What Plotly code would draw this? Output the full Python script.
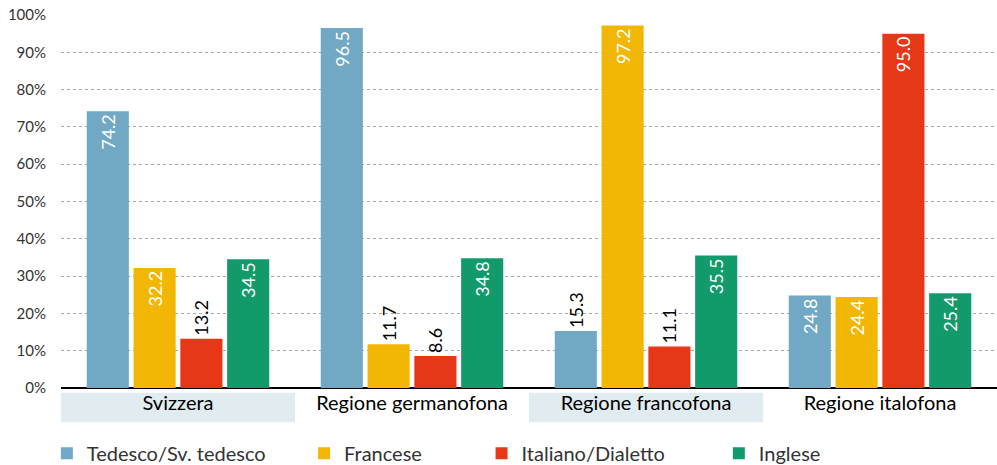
import plotly.graph_objects as go

# data
regions = ["Svizzera", "Regione germanofona", "Regione francofona", "Regione italofona"]
languages = ["Tedesco/Sv. tedesco", "Francese", "Italiano/Dialetto", "Inglese"]
tedesco = [74.2, 96.5, 15.3, 24.8]
francese = [32.2, 11.7, 97.2, 24.4]
italiano = [13.2, 8.6, 11.1, 95.0]
inglese = [34.5, 34.8, 35.5, 25.4]
y_ticks = [0, 10, 20, 30, 40, 50, 60, 70, 80, 90, 100]

series = [tedesco, francese, italiano, inglese]
colors = ["#71a8c3", "#f2b705", "#e63819", "#139a6b"]
legend_ids = ["legend", "legend2", "legend3", "legend4"]
legend_x = [0.047, 0.305, 0.483, 0.721]
FONT = "Lato"

fig = go.Figure()
for name, vals, col, lg in zip(languages, series, colors, legend_ids):
    pos = ["inside" if v > 20 else "outside" for v in vals]
    fig.add_trace(go.Bar(
        name=name,
        x=regions,
        y=vals,
        legend=lg,
        marker=dict(color=col, line=dict(width=0)),
        text=["%.1f" % v for v in vals],
        textposition=pos,
        textangle=-90,
        insidetextanchor="end",
        insidetextfont=dict(family=FONT, size=18, color="white"),
        outsidetextfont=dict(family=FONT, size=18, color="black"),
        cliponaxis=False,
        hoverinfo="skip",
    ))

# shaded category bands (Svizzera, Regione francofona)
for i in [0, 2]:
    fig.add_shape(type="rect", xref="x", yref="paper",
                  x0=i - 0.5, x1=i + 0.5, y0=-0.092, y1=-0.013,
                  fillcolor="#e1ecf0", line=dict(width=0), layer="below")

legend_style = dict(
    orientation="h",
    xref="container",
    xanchor="left",
    y=-0.175, yanchor="middle",
    font=dict(family=FONT, size=20, color="#333333"),
    bgcolor="rgba(0,0,0,0)",
)
layout_legends = {}
for lg, lx in zip(legend_ids, legend_x):
    layout_legends[lg] = dict(legend_style, x=lx)

fig.update_layout(
    width=997, height=465,
    margin=dict(l=61, r=0, t=15, b=77, autoexpand=False),
    paper_bgcolor="white",
    plot_bgcolor="white",
    barmode="group",
    bargap=0.2,
    bargroupgap=0.1,
    font=dict(family=FONT, color="#333333"),
    showlegend=True,
    xaxis=dict(
        type="category",
        showgrid=False,
        showline=False,
        zeroline=False,
        ticks="",
        tickfont=dict(family=FONT, size=20, color="black"),
        ticklabelstandoff=1,
        automargin=False,
    ),
    yaxis=dict(
        range=[0, 100],
        tickvals=y_ticks,
        ticktext=["%d%%" % t for t in y_ticks],
        showgrid=True,
        gridcolor="#a8a8a8",
        griddash="dot",
        gridwidth=1,
        zeroline=True,
        zerolinecolor="black",
        zerolinewidth=1.5,
        showline=False,
        ticks="",
        tickfont=dict(family=FONT, size=15, color="#333333"),
        ticklabelstandoff=14,
        automargin=False,
    ),
    **layout_legends,
)

# drop the default page margin so the figure sits at the window corner
fig.write_html("out.html", config={"displayModeBar": False},
               post_script="document.body.style.margin='0';")
